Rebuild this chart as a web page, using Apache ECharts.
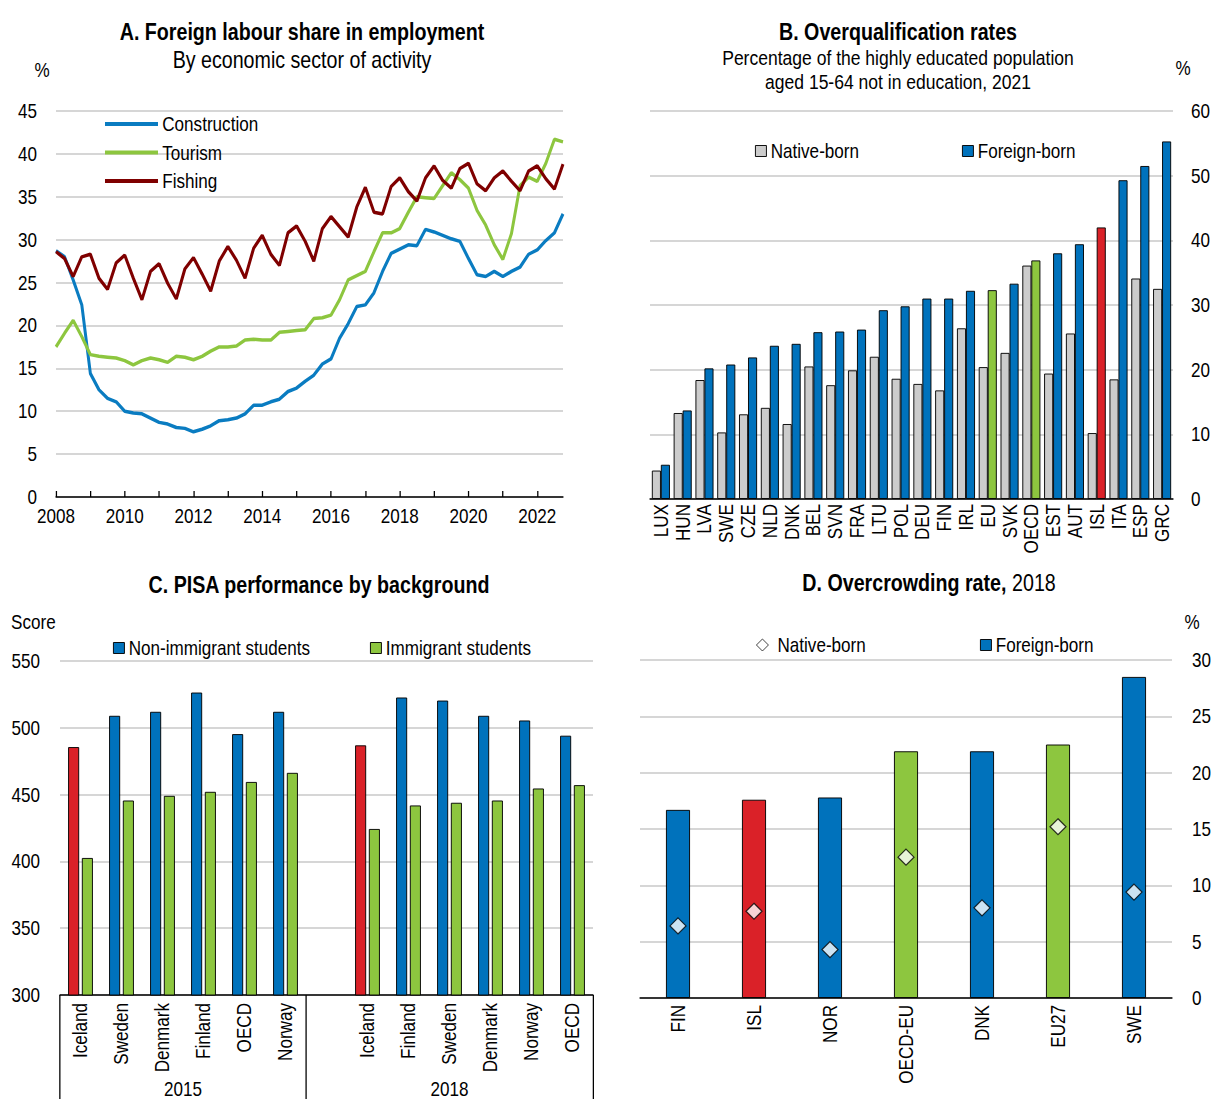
<!DOCTYPE html>
<html>
<head>
<meta charset="utf-8">
<script src="https://cdn.jsdelivr.net/npm/echarts@6/dist/echarts.min.js"></script>
<style>
html, body { margin: 0; padding: 0; background: #fff; overflow: hidden; width: 1226px; height: 1099px; position: relative; }
#chart, #labels { position: absolute; left: 0; top: 0; transform-origin: 0 0; }
#labels { pointer-events: none; }
</style>
</head>
<body>
<div id="chart"></div>
<div id="labels"></div>
<script>
// ---- data ----
const quarters = [
  '2008Q1','2008Q2','2008Q3','2008Q4','2009Q1','2009Q2','2009Q3','2009Q4',
  '2010Q1','2010Q2','2010Q3','2010Q4','2011Q1','2011Q2','2011Q3','2011Q4',
  '2012Q1','2012Q2','2012Q3','2012Q4','2013Q1','2013Q2','2013Q3','2013Q4',
  '2014Q1','2014Q2','2014Q3','2014Q4','2015Q1','2015Q2','2015Q3','2015Q4',
  '2016Q1','2016Q2','2016Q3','2016Q4','2017Q1','2017Q2','2017Q3','2017Q4',
  '2018Q1','2018Q2','2018Q3','2018Q4','2019Q1','2019Q2','2019Q3','2019Q4',
  '2020Q1','2020Q2','2020Q3','2020Q4','2021Q1','2021Q2','2021Q3','2021Q4',
  '2022Q1','2022Q2','2022Q3','2022Q4'
];
const construction = [28.7,28.0,25.3,22.4,14.4,12.5,11.5,11.1,10.0,9.8,
  9.7,9.2,8.7,8.5,8.1,8.0,7.6,7.9,8.3,8.9,
  9.0,9.2,9.7,10.7,10.7,11.1,11.4,12.3,12.7,13.5,
  14.2,15.5,16.1,18.5,20.2,22.2,22.4,23.8,26.3,28.4,
  28.9,29.4,29.3,31.2,30.9,30.5,30.1,29.8,27.8,25.9,
  25.7,26.3,25.7,26.3,26.8,28.3,28.8,29.9,30.8,33.0];
const tourism = [17.5,19.1,20.6,18.7,16.6,16.4,16.3,16.2,15.9,15.4,
  15.9,16.2,16.0,15.7,16.4,16.3,16.0,16.4,17.0,17.5,
  17.5,17.6,18.3,18.4,18.3,18.3,19.2,19.3,19.4,19.5,
  20.8,20.9,21.2,23.0,25.3,25.8,26.3,28.6,30.8,30.8,
  31.3,33.2,35.0,34.9,34.8,36.3,37.8,37.0,36.0,33.4,
  31.7,29.4,27.7,30.7,36.3,37.3,36.8,38.9,41.7,41.4];
const fishing = [28.6,27.8,25.7,28.0,28.3,25.5,24.2,27.3,28.2,25.5,
  23.0,26.3,27.2,24.9,23.1,26.6,27.9,26.0,24.0,27.5,
  29.2,27.6,25.5,29.0,30.5,28.3,27.0,30.8,31.6,29.8,
  27.5,31.3,32.7,31.5,30.3,33.8,36.1,33.2,33.0,36.2,
  37.2,35.6,34.5,37.2,38.6,36.9,36.0,38.3,38.9,36.5,
  35.7,37.2,38.0,36.8,35.7,38.0,38.6,37.1,35.9,38.8];

const bCountries = ['LUX','HUN','LVA','SWE','CZE','NLD','DNK','BEL','SVN','FRA','LTU','POL',
  'DEU','FIN','IRL','EU','SVK','OECD','EST','AUT','ISL','ITA','ESP','GRC'];
const bNative  = [4.4,13.3,18.4,10.3,13.1,14.1,11.6,20.5,17.6,19.9,22.0,18.6,
  17.8,16.8,26.4,20.4,22.6,36.1,19.4,25.6,10.2,18.5,34.1,32.5];
const bForeign = [5.3,13.7,20.2,20.8,21.9,23.7,24.0,25.8,25.9,26.2,29.2,29.8,
  31.0,31.0,32.2,32.3,33.3,36.9,38.0,39.4,42.0,49.3,51.5,55.3];

const cCountries = ['Iceland','Sweden','Denmark','Finland','OECD','Norway','',
  'Iceland','Finland','Sweden','Denmark','Norway','OECD'];
const cNonImmigrant = [485.6,509.0,512.0,526.4,495.3,512.0,null,486.9,522.7,520.4,509.0,505.5,494.1];
const cImmigrant    = [402.6,445.6,449.1,452.1,459.5,466.3,null,424.3,441.9,443.9,445.6,454.6,457.1];
const cYears = ['2015','2018'];

const dCountries = ['FIN','ISL','NOR','OECD-EU','DNK','EU27','SWE'];
const dForeign = [16.7,17.6,17.8,21.9,21.9,22.5,28.5];
const dNative  = [6.4,7.7,4.3,12.5,8.0,15.2,9.4];

// ---- styles ----
// Main chart is drawn wider and squeezed horizontally so the text reads as a narrow face;
// the rotated category labels sit on an overlay squeezed vertically instead.
const SQ = 0.855;
const X = px => px / SQ;
const Y = px => px / SQ;
const FONT = "'Liberation Sans',Arial,sans-serif";
const FS = 20;
const BLUE = '#0072BC', GREEN = '#8DC63F', RED = '#DA2128', GREY = '#CCCCCC', DARKRED = '#7F0000';
const LINEBLUE = '#0A7CC1';
const GRIDLINE = { lineStyle: { color: '#C8C8C8', width: 1.5 } };
const hiB = { ISL: RED, EU: GREEN, OECD: GREEN };
const hiC = { Iceland: RED };
const hiD = { ISL: RED, 'OECD-EU': GREEN, EU27: GREEN };
const txt = { fontFamily: FONT, fontSize: FS, color: '#000' };

const el = document.getElementById('chart');
el.style.width = X(1226) + 'px';
el.style.height = '1099px';
el.style.transform = 'scaleX(' + SQ + ')';

const elL = document.getElementById('labels');
elL.style.width = '1226px';
elL.style.height = Y(1099) + 'px';
elL.style.transform = 'scaleY(' + SQ + ')';

function colored(values, names, hi) {
  return values.map((v, i) => hi[names[i]] ? { value: v, itemStyle: { color: hi[names[i]] } } : v);
}

function label(x, y, text, opts) {
  return {
    type: 'text', x: X(x), y: y,
    style: Object.assign({ text: text, fill: '#000', fontFamily: FONT, fontSize: FS,
      textAlign: 'center', align: 'center', textVerticalAlign: 'middle', verticalAlign: 'middle' }, opts || {})
  };
}

function legendAt(left, top, data, extra) {
  return Object.assign({
    data: data, left: X(left), top: top, padding: 0, selectedMode: false,
    itemWidth: X(11), itemHeight: 11, icon: 'rect',
    itemStyle: { borderColor: '#000', borderWidth: 1 },
    textStyle: Object.assign({}, txt, { lineHeight: 20 })
  }, extra || {});
}

const catAxisBase = {
  type: 'category',
  axisLine: { lineStyle: { color: '#000', width: 1.5 } },
  splitLine: { show: false }
};
const valAxisBase = {
  type: 'value',
  axisLine: { show: false },
  axisTick: { show: false },
  splitLine: GRIDLINE
};
const barBorder = { borderColor: '#000', borderWidth: 1 };
const tickStyle = { color: '#000', width: 1.5 };

const chart = echarts.init(el, null, { renderer: 'svg' });
chart.setOption({
  animation: false,
  textStyle: txt,
  grid: [
    { left: X(56), top: 111, width: X(507), height: 386 },
    { left: X(650), top: 111, width: X(523), height: 388 },
    { left: X(60), top: 661, width: X(533), height: 336 },
    { left: X(640), top: 660, width: X(532), height: 338 }
  ],
  xAxis: [
    Object.assign({}, catAxisBase, {
      gridIndex: 0, data: quarters, boundaryGap: false,
      axisTick: { inside: true, length: 6, interval: 3, lineStyle: tickStyle },
      axisLabel: Object.assign({}, txt, { interval: 7, margin: 9, formatter: v => v.slice(0, 4) })
    }),
    Object.assign({}, catAxisBase, {
      gridIndex: 1, data: bCountries,
      axisTick: { length: 5, lineStyle: tickStyle },
      axisLabel: { show: false }
    }),
    Object.assign({}, catAxisBase, {
      gridIndex: 2, data: cCountries,
      axisTick: { length: 78, interval: 0, lineStyle: tickStyle },
      axisLabel: { show: false }
    }),
    {
      type: 'value', gridIndex: 2, position: 'bottom', min: 0, max: 13,
      axisLine: { show: false }, splitLine: { show: false },
      axisTick: { show: true, length: 110, customValues: [0, 6, 13], lineStyle: tickStyle },
      axisLabel: Object.assign({}, txt, { customValues: [3, 9.5], margin: 84,
        formatter: v => (v < 6 ? cYears[0] : cYears[1]) })
    },
    Object.assign({}, catAxisBase, {
      gridIndex: 3, data: dCountries,
      axisTick: { length: 5, lineStyle: tickStyle },
      axisLabel: { show: false }
    })
  ],
  yAxis: [
    Object.assign({}, valAxisBase, { gridIndex: 0, min: 0, max: 45, interval: 5,
      axisLabel: Object.assign({}, txt, { margin: X(19) }) }),
    Object.assign({}, valAxisBase, { gridIndex: 1, position: 'right', min: 0, max: 60, interval: 10,
      axisLabel: Object.assign({}, txt, { margin: X(18) }) }),
    Object.assign({}, valAxisBase, { gridIndex: 2, min: 300, max: 550, interval: 50,
      axisLabel: Object.assign({}, txt, { margin: X(20) }) }),
    Object.assign({}, valAxisBase, { gridIndex: 3, position: 'right', min: 0, max: 30, interval: 5,
      axisLabel: Object.assign({}, txt, { margin: X(20) }) })
  ],
  legend: [
    legendAt(105, 114, ['Construction', 'Tourism', 'Fishing'], {
      orient: 'vertical', itemWidth: X(53), itemHeight: 4, itemGap: 8.5, itemStyle: {} }),
    legendAt(755, 141, ['Native-born']),
    legendAt(962, 141, ['Foreign-born']),
    legendAt(113, 638, ['Non-immigrant students']),
    legendAt(370, 638, ['Immigrant students']),
    legendAt(756, 635, [{ name: 'D Native-born', icon: 'diamond' }], {
      itemWidth: X(12), itemHeight: 12, formatter: n => n.replace(/^D /, ' ') }),
    legendAt(980, 635, ['D Foreign-born'], { formatter: n => n.replace(/^D /, '') })
  ],
  series: [
    { name: 'Construction', type: 'line', xAxisIndex: 0, yAxisIndex: 0, data: construction,
      symbol: 'none', lineStyle: { color: LINEBLUE, width: 3.5 }, itemStyle: { color: LINEBLUE } },
    { name: 'Tourism', type: 'line', xAxisIndex: 0, yAxisIndex: 0, data: tourism,
      symbol: 'none', lineStyle: { color: GREEN, width: 3.5 }, itemStyle: { color: GREEN } },
    { name: 'Fishing', type: 'line', xAxisIndex: 0, yAxisIndex: 0, data: fishing,
      symbol: 'none', lineStyle: { color: DARKRED, width: 3.5 }, itemStyle: { color: DARKRED } },

    { name: 'Native-born', type: 'bar', xAxisIndex: 1, yAxisIndex: 1, data: bNative,
      barWidth: X(9), barGap: '0%', itemStyle: Object.assign({ color: GREY }, barBorder) },
    { name: 'Foreign-born', type: 'bar', xAxisIndex: 1, yAxisIndex: 1, data: colored(bForeign, bCountries, hiB),
      barWidth: X(9), barGap: '0%', itemStyle: Object.assign({ color: BLUE }, barBorder) },

    { name: 'Non-immigrant students', type: 'bar', xAxisIndex: 2, yAxisIndex: 2,
      data: colored(cNonImmigrant, cCountries, hiC), barWidth: X(11), barGap: '25%',
      itemStyle: Object.assign({ color: BLUE }, barBorder) },
    { name: 'Immigrant students', type: 'bar', xAxisIndex: 2, yAxisIndex: 2,
      data: cImmigrant, barWidth: X(11), barGap: '25%',
      itemStyle: Object.assign({ color: GREEN }, barBorder) },

    { name: 'D Foreign-born', type: 'bar', xAxisIndex: 4, yAxisIndex: 3,
      data: colored(dForeign, dCountries, hiD), barWidth: X(24),
      itemStyle: Object.assign({ color: BLUE }, barBorder) },
    { name: 'D Native-born', type: 'scatter', xAxisIndex: 4, yAxisIndex: 3, data: dNative,
      symbol: 'diamond', symbolSize: [X(16), 16], z: 5,
      itemStyle: { color: '#fff', borderColor: '#000', borderWidth: 1.3 } }
  ],
  graphic: [
    label(302, 32, 'A. Foreign labour share in employment', { fontWeight: 'bold', fontSize: 23 }),
    label(302, 60, 'By economic sector of activity', { fontSize: 23 }),
    label(42, 70, '%'),
    label(898, 32, 'B. Overqualification rates', { fontWeight: 'bold', fontSize: 23 }),
    label(898, 58, 'Percentage of the highly educated population', { fontSize: 20.5 }),
    label(898, 82, 'aged 15-64 not in education, 2021', { fontSize: 20.5 }),
    label(1183, 68, '%'),
    label(319, 585, 'C. PISA performance by background', { fontWeight: 'bold', fontSize: 23 }),
    label(11, 622, 'Score', { textAlign: 'left', align: 'left' }),
    label(929, 583, '{b|D. Overcrowding rate,} 2018', { fontSize: 23,
      rich: { b: { fontWeight: 'bold', fontSize: 23, fontFamily: FONT } } }),
    label(1192, 622, '%')
  ]
});

// ---- rotated category labels (overlay squeezed vertically) ----
const labelAxis = (gridIndex, data, margin) => ({
  type: 'category', gridIndex: gridIndex, data: data,
  axisLine: { show: false }, axisTick: { show: false }, splitLine: { show: false },
  axisLabel: Object.assign({}, txt, { rotate: 90, interval: 0, margin: Y(margin) })
});
const hiddenY = gridIndex => ({ type: 'value', gridIndex: gridIndex, show: false, min: 0, max: 1 });

const labels = echarts.init(elL, null, { renderer: 'svg' });
labels.setOption({
  animation: false,
  grid: [
    { left: 650, top: Y(111), width: 523, height: Y(388) },
    { left: 60, top: Y(661), width: 533, height: Y(336) },
    { left: 640, top: Y(660), width: 532, height: Y(338) }
  ],
  xAxis: [
    labelAxis(0, bCountries, 5),
    labelAxis(1, cCountries, 6),
    labelAxis(2, dCountries, 7)
  ],
  yAxis: [hiddenY(0), hiddenY(1), hiddenY(2)]
});
</script>
</body>
</html>
